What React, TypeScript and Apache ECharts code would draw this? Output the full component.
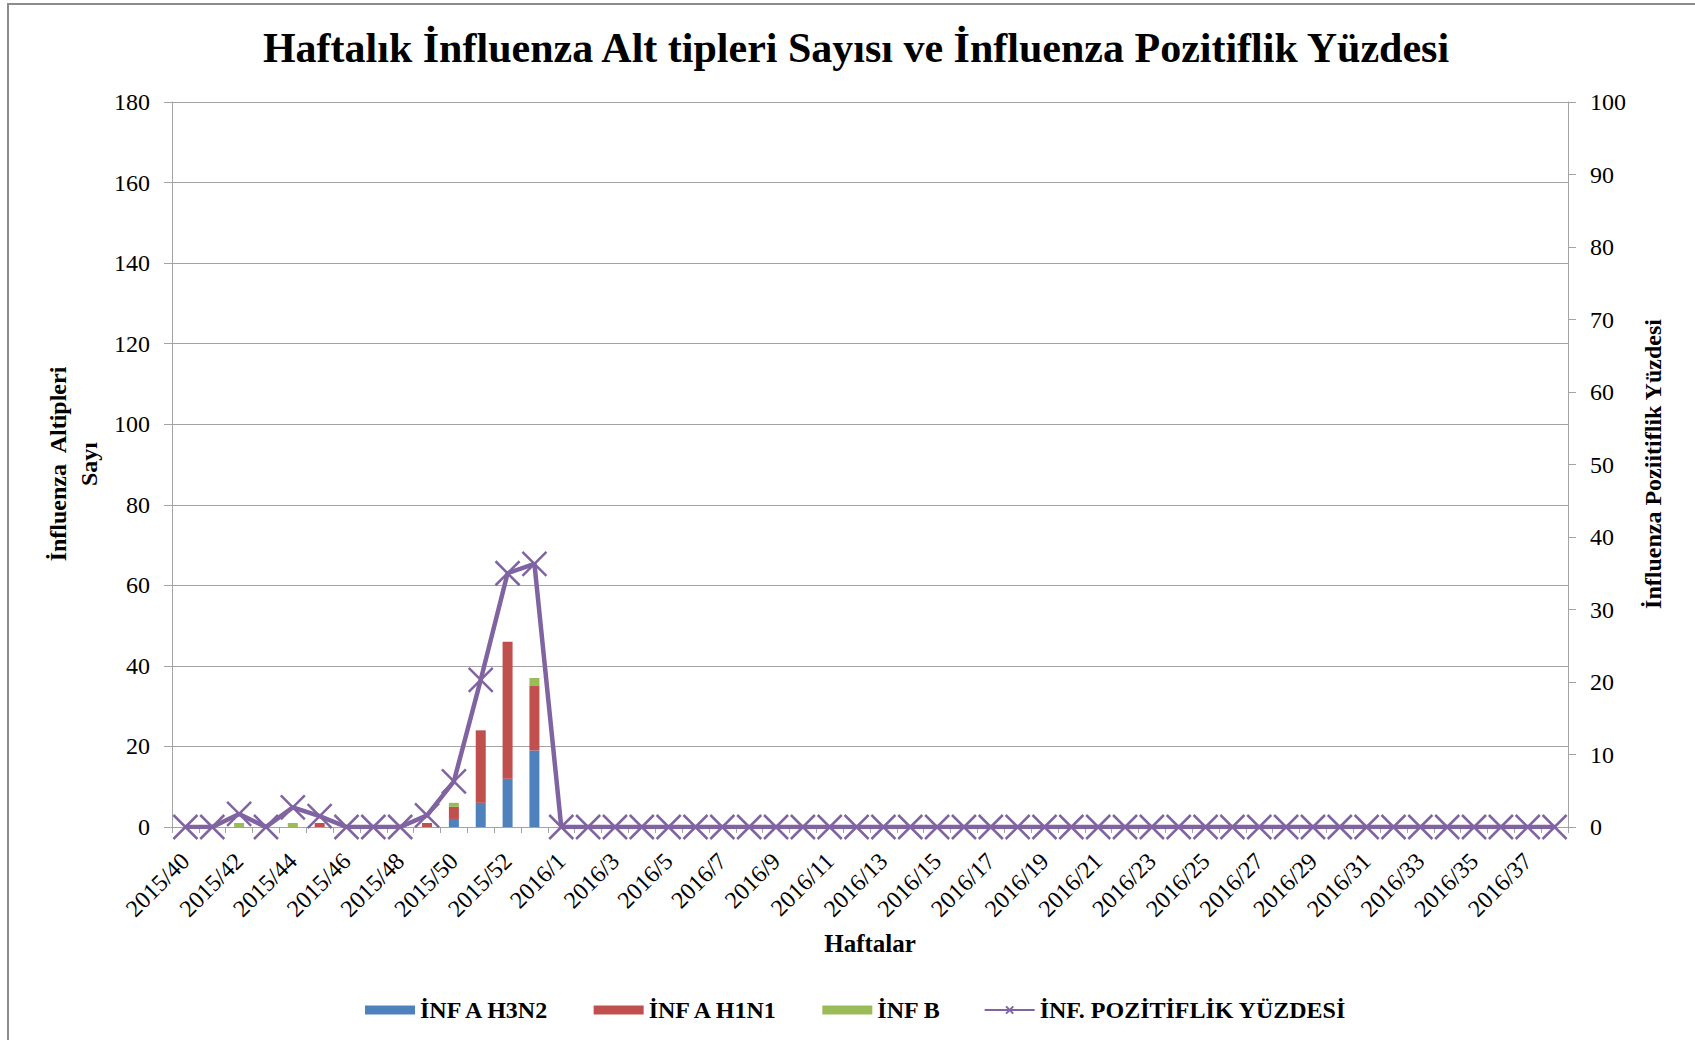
import React, { useEffect, useRef } from "react";
import * as echarts from "echarts";

const categories = [
  "2015/40", "2015/41", "2015/42", "2015/43", "2015/44", "2015/45", "2015/46", "2015/47",
  "2015/48", "2015/49", "2015/50", "2015/51", "2015/52", "2015/53",
  "2016/1", "2016/2", "2016/3", "2016/4", "2016/5", "2016/6", "2016/7", "2016/8", "2016/9",
  "2016/10", "2016/11", "2016/12", "2016/13", "2016/14", "2016/15", "2016/16", "2016/17",
  "2016/18", "2016/19", "2016/20", "2016/21", "2016/22", "2016/23", "2016/24", "2016/25",
  "2016/26", "2016/27", "2016/28", "2016/29", "2016/30", "2016/31", "2016/32", "2016/33",
  "2016/34", "2016/35", "2016/36", "2016/37", "2016/38",
];

const infAH3N2 = [
  0, 0, 0, 0, 0, 0, 0, 0, 0, 0, 2, 6, 12, 19,
  0, 0, 0, 0, 0, 0, 0, 0, 0, 0, 0, 0, 0, 0, 0, 0, 0, 0, 0, 0, 0, 0, 0, 0, 0, 0, 0, 0, 0, 0, 0, 0, 0, 0, 0, 0, 0, 0,
];
const infAH1N1 = [
  0, 0, 0, 0, 0, 1, 0, 0, 0, 1, 3, 18, 34, 16,
  0, 0, 0, 0, 0, 0, 0, 0, 0, 0, 0, 0, 0, 0, 0, 0, 0, 0, 0, 0, 0, 0, 0, 0, 0, 0, 0, 0, 0, 0, 0, 0, 0, 0, 0, 0, 0, 0,
];
const infB = [
  0, 0, 1, 0, 1, 0, 0, 0, 0, 0, 1, 0, 0, 2,
  0, 0, 0, 0, 0, 0, 0, 0, 0, 0, 0, 0, 0, 0, 0, 0, 0, 0, 0, 0, 0, 0, 0, 0, 0, 0, 0, 0, 0, 0, 0, 0, 0, 0, 0, 0, 0, 0,
];
const positivityPct = [
  0, 0, 1.8, 0, 2.7, 1.5, 0, 0, 0, 1.6, 6.3, 20.3, 35.0, 36.3,
  0, 0, 0, 0, 0, 0, 0, 0, 0, 0, 0, 0, 0, 0, 0, 0, 0, 0, 0, 0, 0, 0, 0, 0, 0, 0, 0, 0, 0, 0, 0, 0, 0, 0, 0, 0, 0, 0,
];

const titleText = "Haftalık İnfluenza Alt tipleri Sayısı ve İnfluenza Pozitiflik Yüzdesi";
const leftAxisTitle = "İnfluenza  Altipleri\nSayı";
const rightAxisTitle = "İnfluenza Poziitiflik Yüzdesi";
const xAxisTitle = "Haftalar";
const seriesNames = ["İNF A H3N2", "İNF A H1N1", "İNF B", "İNF. POZİTİFLİK YÜZDESİ"];

const FONT = "'Liberation Serif', 'Times New Roman', serif";
const GRID_COLOR = "#A3A3A3";

export default function App() {
  const ref = useRef<HTMLDivElement>(null);

  useEffect(() => {
    if (!ref.current) return;
    const chart = echarts.init(ref.current, undefined, { renderer: "svg" });
    const xMark = "path://M0 0L20 20M20 0L0 20";
    chart.setOption({
      animation: false,
      backgroundColor: "#ffffff",
      textStyle: { fontFamily: FONT },
      grid: { left: 172, right: 127, top: 102, bottom: 213, containLabel: false },
      legend: {
        left: 360,
        top: 993,
        itemWidth: 50,
        itemHeight: 9,
        itemGap: 43,
        textStyle: { fontFamily: FONT, fontWeight: "bold", fontSize: 24, color: "#000" },
        data: seriesNames.map((n, i) =>
          i < 3 ? { name: n, icon: "rect" } : { name: n }
        ),
      },
      xAxis: {
        type: "category",
        data: categories,
        boundaryGap: true,
        axisLine: { lineStyle: { color: GRID_COLOR, width: 1 } },
        axisTick: { show: true, interval: 0, length: 6, lineStyle: { color: GRID_COLOR } },
        axisLabel: {
          interval: 1,
          rotate: 45,
          fontSize: 24,
          color: "#000",
          fontFamily: FONT,
          margin: 30,
        },
      },
      yAxis: [
        {
          type: "value",
          min: 0,
          max: 180,
          interval: 20,
          position: "left",
          axisLine: { show: true, lineStyle: { color: GRID_COLOR, width: 1 } },
          axisTick: { show: true, length: 8, lineStyle: { color: GRID_COLOR } },
          axisLabel: { fontSize: 24, color: "#000", fontFamily: FONT, margin: 22 },
          splitLine: { show: true, lineStyle: { color: GRID_COLOR, width: 1 } },
        },
        {
          type: "value",
          min: 0,
          max: 100,
          interval: 10,
          position: "right",
          axisLine: { show: true, lineStyle: { color: GRID_COLOR, width: 1 } },
          axisTick: { show: true, length: 8, lineStyle: { color: GRID_COLOR } },
          axisLabel: { fontSize: 24, color: "#000", fontFamily: FONT, margin: 22 },
          splitLine: { show: false },
        },
      ],
      series: [
        {
          name: seriesNames[0],
          type: "bar",
          stack: "flu",
          data: infAH3N2,
          barWidth: 10,
          itemStyle: { color: "#4F81BD" },
        },
        {
          name: seriesNames[1],
          type: "bar",
          stack: "flu",
          data: infAH1N1,
          barWidth: 10,
          itemStyle: { color: "#C0504D" },
        },
        {
          name: seriesNames[2],
          type: "bar",
          stack: "flu",
          data: infB,
          barWidth: 10,
          itemStyle: { color: "#9BBB59" },
        },
        {
          name: seriesNames[3],
          type: "line",
          yAxisIndex: 1,
          data: positivityPct,
          symbol: xMark,
          symbolSize: 24,
          showAllSymbol: true,
          lineStyle: { color: "#8064A2", width: 4.5 },
          itemStyle: { color: "#8064A2", borderColor: "#8064A2", borderWidth: 2.5 },
          z: 5,
        },
      ],
      graphic: [
        {
          type: "rect",
          shape: { x: 8, y: 4, width: 1700, height: 1050 },
          style: { fill: "none", stroke: "#8C8C8C", lineWidth: 2 },
          silent: true,
          z: -10,
        },
        {
          type: "text",
          x: 856,
          y: 48,
          style: {
            text: titleText,
            font: `bold 42px ${FONT}`,
            fill: "#000",
            textAlign: "center",
            textVerticalAlign: "middle",
          },
        },
        {
          type: "text",
          x: 73,
          y: 464,
          rotation: Math.PI / 2,
          style: {
            text: leftAxisTitle,
            font: `bold 24px ${FONT}`,
            lineHeight: 31,
            fill: "#000",
            textAlign: "center",
            textVerticalAlign: "middle",
          },
        },
        {
          type: "text",
          x: 1653,
          y: 464,
          rotation: Math.PI / 2,
          style: {
            text: rightAxisTitle,
            font: `bold 24px ${FONT}`,
            fill: "#000",
            textAlign: "center",
            textVerticalAlign: "middle",
          },
        },
        {
          type: "text",
          x: 870,
          y: 943,
          style: {
            text: xAxisTitle,
            font: `bold 25px ${FONT}`,
            fill: "#000",
            textAlign: "center",
            textVerticalAlign: "middle",
          },
        },
      ],
    });
    return () => chart.dispose();
  }, []);

  return (
    <div
      ref={ref}
      style={{ position: "absolute", left: 0, top: 0, width: 1695, height: 1040, background: "#fff" }}
    />
  );
}
